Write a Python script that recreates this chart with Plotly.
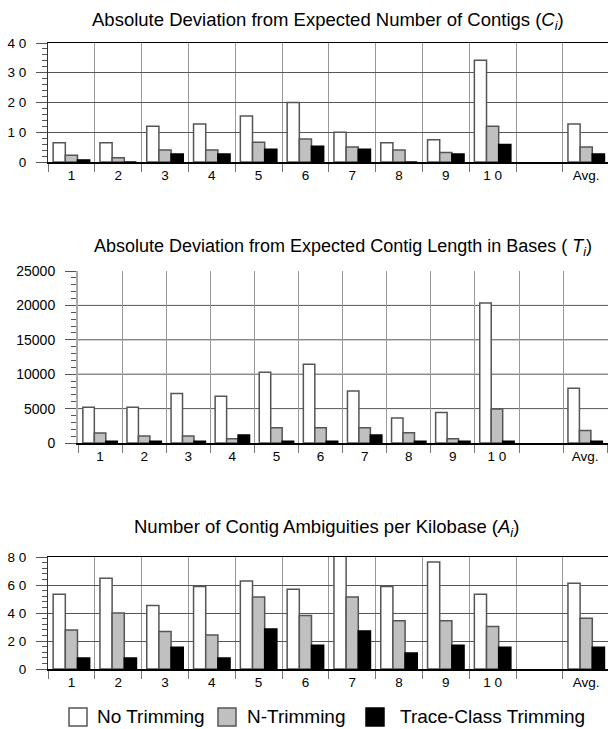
import plotly.graph_objects as go

categories = ["1", "2", "3", "4", "5", "6", "7", "8", "9", "10", " ", "Avg."]
tick_text = ["1", "2", "3", "4", "5", "6", "7", "8", "9", "1 0", "", "Avg."]
series_names = ["No Trimming", "N-Trimming", "Trace-Class Trimming"]

# Absolute deviation from expected number of contigs (C_i)
contigs_none = [6.5, 6.5, 12.0, 12.8, 15.5, 20.0, 10.0, 6.5, 7.5, 34.2, None, 12.8]
contigs_n = [2.3, 1.4, 4.0, 4.0, 6.6, 7.7, 5.0, 4.0, 3.2, 12.0, None, 5.0]
contigs_tc = [0.7, 0.0, 2.7, 2.7, 4.3, 5.3, 4.3, 0.0, 2.7, 5.9, None, 2.7]

# Absolute deviation from expected contig length in bases (T_i)
length_none = [5200, 5200, 7200, 6800, 10300, 11450, 7550, 3650, 4450, 20350, None, 7950]
length_n = [1450, 1000, 1000, 600, 2200, 2200, 2200, 1500, 600, 4950, None, 1800]
length_tc = [250, 250, 250, 1150, 250, 250, 1150, 250, 250, 250, None, 250]

# Number of contig ambiguities per kilobase (A_i)
ambig_none = [53.4, 64.8, 45.4, 59.0, 62.9, 57.0, 80.5, 59.0, 76.5, 53.4, None, 61.2]
ambig_n = [27.9, 40.0, 26.7, 24.3, 51.5, 38.3, 51.5, 34.5, 34.5, 30.3, None, 36.2]
ambig_tc = [7.8, 7.8, 15.5, 7.8, 28.6, 17.0, 27.2, 11.4, 17.0, 15.5, None, 15.5]

titles = [
    "Absolute Deviation from Expected Number of Contigs (<i>C<sub>i</sub></i>)",
    "Absolute Deviation from Expected Contig Length in Bases ( <i>T<sub>i</sub></i>)",
    "Number of Contig Ambiguities per Kilobase (<i>A<sub>i</sub></i>)",
]

W, H = 608, 729
FONT = "Liberation Sans, Arial, sans-serif"
fills = ["#ffffff", "#c0c0c0", "#000000"]
edges = ["#555555", "#555555", "#000000"]

panels = [
    (contigs_none, contigs_n, contigs_tc),
    (length_none, length_n, length_tc),
    (ambig_none, ambig_n, ambig_tc),
]

fig = go.Figure()
for p, data in enumerate(panels):
    ax = "" if p == 0 else str(p + 1)
    for s, vals in enumerate(data):
        fig.add_trace(go.Bar(
            x=categories, y=vals, name=series_names[s],
            xaxis="x" + ax, yaxis="y" + ax,
            marker=dict(color=fills[s], line=dict(color=edges[s], width=1.5)),
            legendgroup=series_names[s], showlegend=False,
        ))


def px_x(v):
    return v / W


def px_y(v):
    return 1 - v / H


# (left px, top px, bottom px, slot px, y range, major dtick, minor dtick, y tick labels, axis line colour, width)
geo = [
    (48, 43, 162, 46.8, [0, 40], 10, 2, ["0", "1 0", "2 0", "3 0", "4 0"], "#333333", 1),
    (78, 271, 443, 44.1, [0, 25000], 5000, 1000, ["0", "5000", "10000", "15000", "20000", "25000"], "#aaaaaa", 2),
    (48, 557, 669, 46.8, [0, 80], 20, 4, ["0", "2 0", "4 0", "6 0", "8 0"], "#333333", 1),
]

layout = {}
shapes = []
for p, (left, top, bot, slot, yr, dt, mdt, ylabels, ylc, ylw) in enumerate(geo):
    ax = "" if p == 0 else str(p + 1)
    xmax = -0.5 + (W - left) / slot
    layout["xaxis" + ax] = dict(
        domain=[px_x(left), 1], anchor="y" + ax, type="category",
        categoryorder="array", categoryarray=categories,
        tickmode="array", tickvals=categories, ticktext=tick_text,
        range=[-0.5, xmax], tickson="boundaries", ticks="outside", ticklen=8,
        tickcolor="#777777", showgrid=True, gridcolor="#999999", gridwidth=1,
        showline=True, linecolor="#000000", linewidth=1.5,
        mirror=(p != 1), tickfont=dict(family=FONT, size=13.5, color="#000"),
        zeroline=False, fixedrange=True, automargin=False,
    )
    vals = [yr[0] + i * dt for i in range(len(ylabels))]
    layout["yaxis" + ax] = dict(
        domain=[px_y(bot), px_y(top)], anchor="x" + ax, range=yr,
        tickmode="array", tickvals=vals, ticktext=ylabels,
        ticks="outside", ticklen=11, tickcolor="#555555", ticklabelstandoff=7,
        minor=dict(dtick=mdt, ticks="outside", ticklen=5, tickcolor="#555555", showgrid=False),
        showgrid=(p != 1), gridcolor="#555555", gridwidth=1,
        showline=True, linecolor=ylc, linewidth=ylw,
        zeroline=False, tickfont=dict(family=FONT, size=13.5 if p != 1 else 14, color="#000"),
        fixedrange=True, automargin=False,
    )
    if p == 1:
        # middle panel: no line along the top, grid only at inner ticks
        for v in vals[1:-1]:
            shapes.append(dict(type="line", xref="x2 domain", x0=0, x1=1, yref="y2", y0=v, y1=v,
                               line=dict(color="#555555", width=1), layer="below"))

title_pos = [(328, 21, 18.5), (343, 248, 18), (326, 528, 18.5)]
annotations = []
for t, (cx, cy, fs) in zip(titles, title_pos):
    annotations.append(dict(
        text=t, x=px_x(cx), y=px_y(cy), xref="paper", yref="paper",
        xanchor="center", yanchor="middle", showarrow=False,
        font=dict(family=FONT, size=fs, color="#000"),
    ))

# legend drawn as key boxes + labels
legend_items = [(69, 95), (218, 245), (366, 398)]
for s, (bx, tx) in enumerate(legend_items):
    shapes.append(dict(type="rect", xref="paper", yref="paper",
                       x0=px_x(bx), x1=px_x(bx + 18), y0=px_y(726), y1=px_y(708),
                       fillcolor=fills[s], line=dict(color=edges[s], width=1.5)))
    annotations.append(dict(
        text=series_names[s], x=px_x(tx), y=px_y(716), xref="paper", yref="paper",
        xanchor="left", yanchor="middle", showarrow=False,
        font=dict(family=FONT, size=19, color="#000"),
    ))

fig.update_layout(
    width=W, height=H, margin=dict(l=0, r=0, t=0, b=0, autoexpand=False),
    paper_bgcolor="white", plot_bgcolor="white",
    barmode="group", bargap=0.22, bargroupgap=0.0,
    annotations=annotations, shapes=shapes, showlegend=False,
    **layout,
)

fig.write_html(
    "out.html",
    config={"displayModeBar": False, "staticPlot": True},
    post_script="document.body.style.margin='0px';document.body.style.overflow='hidden';",
)
